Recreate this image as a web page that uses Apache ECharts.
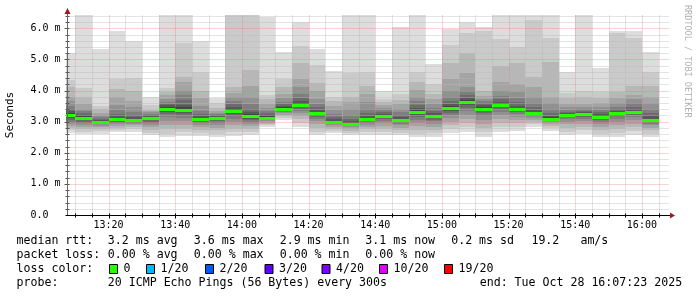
<!DOCTYPE html>
<html><head><meta charset="utf-8">
<script src="https://cdn.jsdelivr.net/npm/echarts@6/dist/echarts.min.js"></script>
<style>html,body{margin:0;padding:0;background:#fff}#c{width:697px;height:297px}</style>
</head><body><div id="c"></div>
<script>
// ---------------- data ----------------
const graphStart = '13:07:23';
const graphEnd = '16:07:23';
const stepMin = 5; // rrd step 300 s
const yMax = 6.43; // upper limit of the value axis (ms)
const yTickValues = [0, 1, 2, 3, 4, 5, 6];
const xLabelTimes = ['13:20','13:40','14:00','14:20','14:40','15:00','15:20','15:40','16:00'];
const binEnd = ['13:10','13:15','13:20','13:25','13:30','13:35','13:40','13:45','13:50','13:55',
  '14:00','14:05','14:10','14:15','14:20','14:25','14:30','14:35','14:40','14:45',
  '14:50','14:55','15:00','15:05','15:10','15:15','15:20','15:25','15:30','15:35',
  '15:40','15:45','15:50','15:55','16:00','16:05'];
const median = [3.22,3.11,2.99,3.08,3.04,3.13,3.42,3.38,3.08,3.11,
  3.35,3.17,3.13,3.42,3.55,3.27,2.99,2.93,3.08,3.17,
  3.05,3.30,3.18,3.43,3.63,3.42,3.53,3.40,3.27,3.10,
  3.22,3.24,3.16,3.27,3.31,3.05];
// 20 sorted ping RTTs (ms) per bin
const pings = [
  [2.65,2.74,2.80,2.86,2.92,2.98,3.05,3.12,3.17,3.20,3.24,3.28,3.33,3.40,3.52,3.66,3.80,4.10,4.34,5.20],
  [2.60,2.68,2.76,2.84,2.90,2.95,3.00,3.04,3.07,3.09,3.13,3.17,3.22,3.28,3.34,3.40,3.56,3.78,4.07,6.90],
  [2.62,2.70,2.77,2.83,2.87,2.91,2.94,2.96,2.97,2.98,3.00,3.02,3.05,3.09,3.14,3.20,3.28,3.40,3.50,5.33],
  [2.66,2.74,2.81,2.87,2.92,2.96,3.00,3.03,3.05,3.07,3.09,3.13,3.18,3.25,3.38,3.55,3.80,4.05,4.37,5.92],
  [2.68,2.76,2.83,2.89,2.94,2.97,3.00,3.02,3.03,3.03,3.05,3.09,3.14,3.22,3.32,3.48,3.68,4.00,4.42,5.60],
  [2.57,2.65,2.74,2.82,2.89,2.95,3.00,3.05,3.09,3.12,3.14,3.16,3.19,3.22,3.26,3.30,3.34,3.37,3.55,3.80],
  [2.50,2.62,2.76,2.90,3.02,3.14,3.24,3.32,3.37,3.40,3.44,3.48,3.53,3.58,3.64,3.72,3.85,3.95,4.08,6.80],
  [2.55,2.66,2.78,2.90,3.02,3.12,3.20,3.27,3.33,3.36,3.40,3.46,3.55,3.70,3.85,4.00,4.28,4.45,5.54,6.80],
  [2.55,2.64,2.74,2.83,2.90,2.96,3.00,3.04,3.06,3.07,3.09,3.12,3.17,3.24,3.35,3.52,3.75,4.00,4.61,5.60],
  [2.52,2.62,2.72,2.81,2.89,2.96,3.01,3.05,3.08,3.10,3.12,3.14,3.17,3.20,3.24,3.29,3.35,3.45,3.60,3.77],
  [2.55,2.66,2.78,2.90,3.00,3.10,3.18,3.25,3.30,3.33,3.37,3.42,3.48,3.56,3.66,3.78,3.92,4.10,6.60,7.00],
  [2.58,2.68,2.78,2.87,2.94,3.00,3.05,3.10,3.13,3.15,3.19,3.24,3.31,3.42,3.58,3.80,4.15,4.65,6.60,7.00],
  [2.82,2.88,2.93,2.97,3.01,3.05,3.08,3.10,3.11,3.12,3.14,3.17,3.21,3.27,3.35,3.45,3.58,3.72,3.86,6.38],
  [3.05,3.12,3.18,3.23,3.28,3.32,3.35,3.38,3.40,3.41,3.43,3.46,3.50,3.56,3.64,3.76,3.89,4.10,4.37,5.25],
  [2.84,2.96,3.08,3.18,3.27,3.35,3.42,3.47,3.51,3.53,3.57,3.61,3.67,3.76,3.90,4.10,4.37,4.90,5.44,6.22],
  [2.57,2.68,2.80,2.92,3.02,3.10,3.16,3.21,3.24,3.26,3.28,3.32,3.38,3.46,3.58,3.74,3.98,4.25,4.82,5.33],
  [2.64,2.71,2.78,2.84,2.89,2.92,2.95,2.97,2.98,2.98,3.00,3.03,3.08,3.15,3.24,3.36,3.52,3.68,3.80,4.64],
  [2.58,2.65,2.71,2.77,2.82,2.86,2.89,2.91,2.92,2.92,2.94,2.97,3.02,3.10,3.22,3.40,3.62,3.80,4.55,6.80],
  [2.57,2.66,2.75,2.83,2.90,2.96,3.01,3.04,3.06,3.07,3.09,3.13,3.19,3.28,3.42,3.62,3.88,4.15,4.60,6.80],
  [2.58,2.68,2.78,2.87,2.95,3.02,3.08,3.12,3.15,3.16,3.18,3.21,3.25,3.30,3.37,3.45,3.55,3.64,3.72,4.00],
  [2.57,2.65,2.73,2.81,2.88,2.94,2.98,3.01,3.03,3.04,3.06,3.09,3.14,3.21,3.30,3.42,3.56,3.70,3.90,6.05],
  [2.50,2.62,2.74,2.86,2.97,3.07,3.15,3.21,3.26,3.28,3.32,3.37,3.44,3.54,3.66,3.80,4.02,4.28,4.60,6.80],
  [2.52,2.63,2.74,2.84,2.93,3.01,3.07,3.12,3.15,3.17,3.19,3.22,3.27,3.34,3.43,3.56,3.72,3.90,4.20,4.86],
  [2.64,2.76,2.88,3.00,3.11,3.21,3.29,3.35,3.39,3.41,3.45,3.50,3.57,3.66,3.80,4.00,4.37,4.90,5.46,5.99],
  [2.68,2.82,2.96,3.10,3.23,3.35,3.45,3.53,3.58,3.61,3.65,3.70,3.77,3.86,3.97,4.10,4.58,5.20,5.84,6.22],
  [2.52,2.66,2.80,2.94,3.07,3.18,3.27,3.34,3.38,3.40,3.44,3.48,3.53,3.59,3.66,3.74,3.82,4.00,5.93,6.03],
  [2.68,2.82,2.96,3.09,3.21,3.32,3.41,3.47,3.51,3.52,3.54,3.58,3.64,3.72,3.84,4.00,4.28,4.80,5.67,6.80],
  [2.71,2.83,2.95,3.06,3.16,3.24,3.31,3.36,3.38,3.39,3.41,3.45,3.52,3.62,3.76,3.95,4.20,4.90,5.40,6.80],
  [2.84,2.92,3.00,3.07,3.13,3.18,3.22,3.25,3.26,3.26,3.28,3.32,3.38,3.47,3.60,3.80,4.10,4.45,6.27,6.80],
  [2.71,2.79,2.87,2.94,3.00,3.04,3.07,3.08,3.09,3.09,3.11,3.14,3.19,3.27,3.40,3.60,3.80,4.93,5.70,6.80],
  [2.57,2.68,2.80,2.91,3.00,3.08,3.14,3.18,3.20,3.21,3.23,3.25,3.28,3.32,3.38,3.46,3.58,3.75,3.92,4.61],
  [2.62,2.72,2.83,2.93,3.02,3.10,3.16,3.20,3.22,3.23,3.25,3.27,3.30,3.34,3.40,3.48,3.58,3.80,4.00,6.80],
  [2.52,2.62,2.72,2.82,2.91,2.99,3.06,3.11,3.14,3.15,3.17,3.20,3.24,3.30,3.38,3.48,3.60,3.76,3.95,4.72],
  [2.52,2.64,2.76,2.88,2.99,3.09,3.17,3.22,3.25,3.26,3.28,3.31,3.35,3.40,3.48,3.60,3.75,3.95,5.84,5.90],
  [2.58,2.70,2.82,2.94,3.05,3.14,3.21,3.26,3.29,3.30,3.32,3.35,3.40,3.48,3.60,3.74,3.87,4.16,5.70,5.92],
  [2.52,2.62,2.72,2.81,2.88,2.94,2.98,3.01,3.03,3.04,3.06,3.10,3.17,3.27,3.40,3.59,3.80,4.16,4.60,5.25]
];
const rttLabel = 'median rtt:';
const rttStats = ['3.2 ms avg','3.6 ms max','2.9 ms min','3.1 ms now','0.2 ms sd'];
const ampsStats = ['19.2', 'am/s'];
const lossLabel = 'packet loss:';
const lossStats = ['0.00 % avg','0.00 % max','0.00 % min','0.00 % now'];
const lossColorLabel = 'loss color:';
const lossColorNames = ['0','1/20','2/20','3/20','4/20','10/20','19/20'];
const lossColorValues = ['#26ff00','#00b8ff','#0059ff','#5e00ff','#7e00ff','#dd00ff','#ff0000'];
const probeLabel = 'probe:';
const probeText = '20 ICMP Echo Pings (56 Bytes) every 300s';
const endText = 'end: Tue Oct 28 16:07:23 2025';
const yTitle = 'Seconds';
const credit = 'RRDTOOL / TOBI OETIKER';

// ---------------- helpers ----------------
function toMin(s){ const p = s.split(':').map(Number); return p[0]*60 + p[1] + (p[2]||0)/60; }
function fmtTime(v){ const h = Math.floor(v/60), m = Math.round(v - h*60); return String(h).padStart(2,'0')+':'+String(m).padStart(2,'0'); }
const T0 = toMin(graphStart), T1 = toMin(graphEnd);
const bins = binEnd.map((e,i) => [toMin(e) - stepMin, toMin(e), i, median[i]]);
const MONO = '"DejaVu Sans Mono", "Liberation Mono", monospace';
const medianColor = lossColorValues[0];

function smokeItem(params, api){
  const x0 = api.value(0), x1 = api.value(1), i = api.value(2);
  const p = pings[i], n = p.length, half = n/2;
  const kids = [];
  for (let k = 1; k <= half; k++){
    const lo = p[k-1], hi = p[n-k];
    const a = api.coord([x0, hi]), b = api.coord([x1, lo]);
    const g = Math.floor(190/half*(half-k)) + 50;
    const xa = Math.round(a[0]), xb = Math.round(b[0]);
    const ya = Math.round(a[1]), yb = Math.round(b[1]);
    kids.push({type:'rect', shape:{x:xa, y:ya, width:xb-xa, height:yb-ya},
      style:{fill:'rgb('+g+','+g+','+g+')'}});
  }
  return {type:'group', children:kids};
}
function medianItem(params, api){
  const x0 = api.value(0), x1 = api.value(1), m = api.value(3);
  const a = api.coord([x0, m]), b = api.coord([x1, m]);
  const xa = Math.round(a[0]), xb = Math.round(b[0]), y = Math.round(a[1]);
  return {type:'rect', shape:{x:xa, y:y-1, width:xb-xa, height:3}, style:{fill:medianColor}};
}
function gridItem(params, api){
  const kids = [];
  const minorC = 'rgba(185,185,185,0.8)', majorC = 'rgba(235,125,125,0.65)';
  const o = api.coord([T0, 0]), tr = api.coord([T1, yMax]);
  const X0 = Math.round(o[0]) + 0.5, Y0 = Math.round(o[1]) + 0.5;
  const X1 = Math.round(tr[0]), Ytop = Math.round(tr[1]);
  for (let t = Math.ceil(T0/stepMin)*stepMin; t <= T1; t += stepMin){
    const x = Math.round(api.coord([t, 0])[0]) + 0.5;
    const major = (Math.round(t) % 20) === 0;
    kids.push({type:'line', shape:{x1:x, y1:Y0+2, x2:x, y2:Ytop}, style:{stroke: major?majorC:minorC, lineWidth:1, lineDash:[1,1]}});
    kids.push({type:'line', shape:{x1:x, y1:Y0-2, x2:x, y2:Y0+(major?3:2)}, style:{stroke:'#000', lineWidth:1}});
  }
  for (let k = 1; k/5 <= yMax; k++){
    const v = k/5;
    const y = Math.round(api.coord([T0, v])[1]) + 0.5;
    const major = k % 5 === 0;
    kids.push({type:'line', shape:{x1:X0, y1:y, x2:X1+2, y2:y}, style:{stroke: major?majorC:minorC, lineWidth:1, lineDash:[1,1]}});
    kids.push({type:'line', shape:{x1:X0-(major?3:2), y1:y, x2:X0+2, y2:y}, style:{stroke:'#555', lineWidth:1}});
  }
  return {type:'group', children:kids};
}
function frameItem(params, api){
  const o = api.coord([T0, 0]), tr = api.coord([T1, yMax]);
  const X0 = Math.round(o[0]) + 0.5, Y0 = Math.round(o[1]) + 0.5;
  const X1 = Math.round(tr[0]), Ytop = Math.round(tr[1]);
  const arrowC = '#a01818';
  return {type:'group', children:[
    {type:'line', shape:{x1:X0, y1:Y0, x2:X0, y2:Ytop-5}, style:{stroke:'#666', lineWidth:1}},
    {type:'line', shape:{x1:X0-2, y1:Y0, x2:X1+4, y2:Y0}, style:{stroke:'#000', lineWidth:1}},
    {type:'polygon', shape:{points:[[X0-3,Ytop-1],[X0+3,Ytop-1],[X0,Ytop-7]]}, style:{fill:arrowC}},
    {type:'polygon', shape:{points:[[X1+3,Y0-3],[X1+3,Y0+3],[X1+8,Y0]]}, style:{fill:arrowC}}
  ]};
}

// ---------------- legend graphics ----------------
const graphics = [];
function txt(s, x, y, size, color){
  graphics.push({type:'text', x:x, y:y, silent:true,
    style:{text:s, font: size+'px '+MONO, fill:color||'#000', textVerticalAlign:'middle', verticalAlign:'middle'}});
}
const colX = [107.8, 193.8, 279.7, 365.3, 451.2];
const LF = 11.6;
const rows = [241, 255, 269, 283];
txt(rttLabel, 16.5, rows[0], LF);
rttStats.forEach((s,i) => txt(s, colX[i], rows[0], LF));
txt(ampsStats[0], 531.4, rows[0], LF);
txt(ampsStats[1], 580.4, rows[0], LF);
txt(lossLabel, 16.5, rows[1], LF);
lossStats.forEach((s,i) => txt(s, colX[i], rows[1], LF));
txt(lossColorLabel, 16.5, rows[2], LF);
const boxX = [109, 146, 205, 264.5, 321.5, 379, 444];
lossColorNames.forEach((s,i) => {
  graphics.push({type:'rect', silent:true, shape:{x:boxX[i]+0.5, y:rows[2]-4.5, width:8, height:9},
    style:{fill:lossColorValues[i], stroke:'#000', lineWidth:1}});
  txt(s, boxX[i]+14.5, rows[2], LF);
});
txt(probeLabel, 16.5, rows[3], LF);
txt(probeText, colX[0], rows[3], LF);
txt(endText, 479.7, rows[3], LF);
graphics.push({type:'text', x:10.5, y:115, rotation:Math.PI/2, silent:true,
  style:{text:yTitle, font:'11px '+MONO, fill:'#000', textAlign:'center', align:'center', textVerticalAlign:'middle', verticalAlign:'middle'}});
graphics.push({type:'text', x:687, y:5, rotation:-Math.PI/2, silent:true,
  style:{text:credit, font:'8.5px '+MONO, fill:'#b0b0b0', textAlign:'left', align:'left', textVerticalAlign:'middle', verticalAlign:'middle'}});

// ---------------- chart ----------------
const chart = echarts.init(document.getElementById('c'), null, {renderer:'canvas'});
chart.setOption({
  animation:false,
  backgroundColor:'#fff',
  grid:{left:66.5, right:30.5, top:15, bottom:82, containLabel:false},
  xAxis:{type:'value', min:T0, max:T1,
    axisLine:{show:false}, axisTick:{show:false}, splitLine:{show:false},
    axisLabel:{customValues: xLabelTimes.map(toMin), formatter:v => fmtTime(v),
      fontFamily:MONO, fontSize:10, color:'#000', margin:5}},
  yAxis:{type:'value', min:0, max:yMax, interval:1,
    axisLine:{show:false}, axisTick:{show:false}, splitLine:{show:false},
    axisLabel:{customValues: yTickValues, formatter:v => v === 0 ? '0.0  ' : v.toFixed(1)+' m',
      fontFamily:MONO, fontSize:10, color:'#000', margin:6}},
  graphic: graphics,
  series:[
    {type:'custom', name:'smoke', data:bins, renderItem:smokeItem, clip:true, z:2, silent:true},
    {type:'custom', name:'grid', data:[[T0,0]], renderItem:gridItem, clip:false, z:3, silent:true},
    {type:'custom', name:'median', data:bins, renderItem:medianItem, clip:true, z:4, silent:true},
    {type:'custom', name:'frame', data:[[T0,0]], renderItem:frameItem, clip:false, z:5, silent:true}
  ]
});
</script>
</body></html>
